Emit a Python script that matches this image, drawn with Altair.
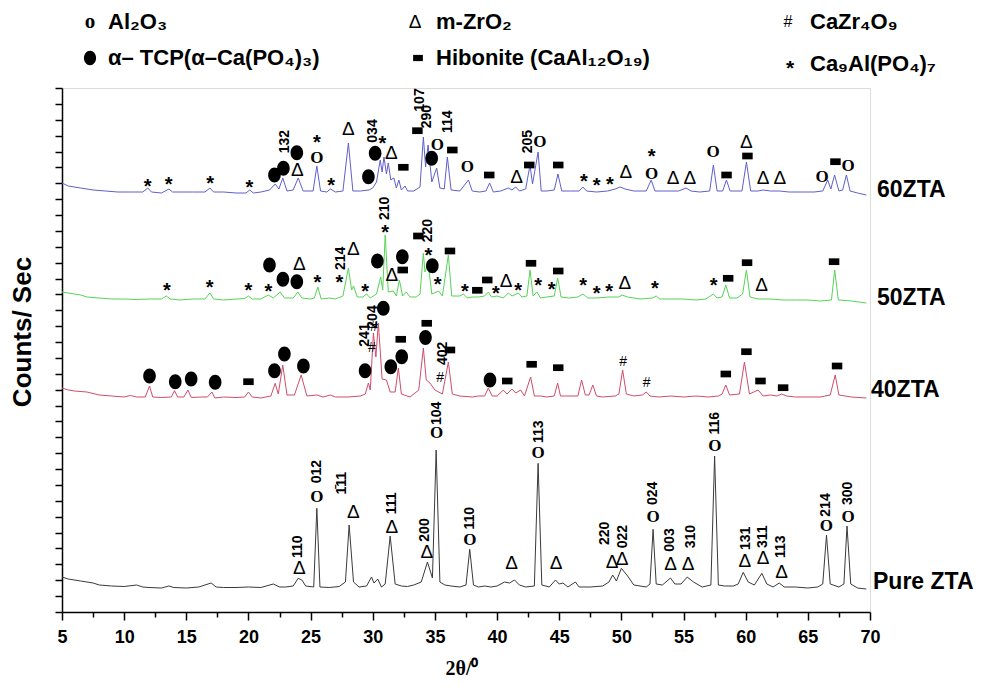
import altair as alt
import pandas as pd

# ---------------- data (2θ in degrees, intensity in arbitrary stacked units) -------------
pure_zta = [(5.0,35),(5.5,33),(6.5,31),(7.5,29),(8.0,27),(9.0,26),(10.0,25.5),(11.0,27),(11.5,25),(12.0,24.5),
    (13.0,24),(13.6,26),(14.0,24.5),(15.0,24),(16.0,25),(17.0,29),(17.4,25),(18.0,24.5),(19.0,24.5),(20.0,25),
    (21.0,24.5),(22.0,28),(22.5,25),(23.0,25),(23.6,26),(24.0,33.7),(24.3,32),(24.6,26),(25.25,25),(25.5,103.7),
    (25.75,25),(26.5,24.5),(27.3,25.5),(27.8,30),(28.1,87),(28.45,30),(28.9,25),(29.5,26),(29.9,35),(30.1,29),
    (30.4,33),(30.7,25),(31.0,28),(31.4,76),(31.8,28),(32.3,26),(32.8,25.5),(33.3,27),(33.9,30),(34.4,50),
    (34.8,34),(35.1,162),(35.4,30),(35.8,27),(36.3,26),(37.0,25),(37.5,27),(37.8,62.7),(38.1,27),(38.5,25),
    (39.0,26),(39.5,25),(40.0,26),(40.6,30),(41.0,29),(41.4,32),(41.8,27),(42.3,25),(43.0,26),(43.3,148.7),
    (43.6,27),(44.2,25),(44.7,32),(45.0,28),(45.3,29),(45.7,25),(46.3,30),(46.6,25),(47.5,25),(48.5,26),
    (49.0,30),(49.3,37),(49.6,31),(50.0,43.7),(50.5,36),(51.0,27),(52.0,25),(52.3,28),(52.55,82.7),(52.8,28),
    (53.3,27),(53.95,34),(54.3,28),(54.8,28),(55.3,35),(55.8,30),(56.5,25),(57.2,27),(57.5,156),(57.8,27),
    (58.3,26),(59.0,26),(59.4,28),(59.8,39.7),(60.2,30),(60.7,27),(61.3,38.7),(61.7,28),(62.2,25),(62.7,29),
    (63.1,25),(64.0,25),(65.0,24),(65.8,25),(66.2,28),(66.5,77),(66.8,28),(67.5,25),(67.9,28),(68.15,86),
    (68.45,28),(69.0,24),(69.7,23)]

zta40 = [(5.0,224),(5.5,222),(6.0,221),(7.0,220),(8.0,217),(9.0,216),(10.0,215),(10.5,216.5),(11.0,215),
    (11.7,215),(12.04,226),(12.3,215),(13.0,214.5),(13.8,215),(14.05,221.3),(14.3,215),(14.8,215),(15.13,222),
    (15.4,214.5),(16.2,215),(16.7,215),(17.06,220),(17.3,214),(18.0,215),(19.0,214.5),(19.7,215),(20.0,220),
    (20.3,215),(21.0,214),(21.8,216),(22.15,228.7),(22.4,218),(22.76,247),(23.1,217),(23.7,217),(24.24,237),
    (24.7,216),(25.5,217),(26.0,215),(26.6,217),(27.0,215),(28.0,215),(29.0,216),(29.4,218),(29.65,229),
    (29.8,222),(30.05,279),(30.25,255),(30.45,289),(30.75,233),(31.1,232),(31.4,220),(31.8,220),(32.06,244),
    (32.3,218),(33.0,215),(33.7,222),(34.07,264),(34.3,232),(34.6,229),(35.0,222),(35.6,218),(36.08,250),
    (36.4,218),(37.0,216),(38.0,215),(38.5,216),(39.0,216),(39.3,224),(39.6,216),(40.0,216),(40.5,222),
    (40.8,218),(41.2,223),(41.5,219),(41.9,222),(42.2,216),(42.7,235),(43.0,216),(43.5,216),(44.0,215),
    (44.6,216),(44.87,229),(45.1,216),(45.5,216),(46.5,216),(46.8,232),(47.1,217),(47.4,217),(47.7,227),
    (48.0,216),(48.5,215),(49.5,216),(49.8,218),(50.1,242),(50.4,218),(51.0,216),(51.7,217),(52.0,220),
    (52.3,216),(53.0,215),(54.0,216),(55.0,215),(56.0,216),(57.0,215),(57.8,216),(58.1,218),(58.4,227),
    (58.7,217),(59.5,218),(59.9,250),(60.3,218),(61.0,222),(61.4,216),(62.0,217),(62.5,216),(62.9,218),
    (63.3,216),(64.0,215),(65.0,215),(66.0,215),(66.8,217),(67.2,237),(67.5,217),(68.5,215),(69.7,214)]

zta50 = [(5.0,320),(5.5,319),(6.5,317),(7.0,315),(8.0,314),(9.0,313),(10.0,313),(11.0,312.5),(12.0,313),
    (13.0,313),(13.4,316),(13.7,313),(14.5,312),(15.5,313),(16.5,313),(16.9,319),(17.2,313),(18.0,312),
    (19.0,313),(19.7,313.5),(20.0,316),(20.3,313),(21.0,313),(21.6,317),(22.0,314),(22.55,320),(22.9,314),
    (23.6,314),(23.97,320),(24.3,314),(25.0,313),(25.3,314),(25.58,325),(25.85,313),(26.5,314),(27.0,313),
    (27.6,316),(28.04,344),(28.3,322),(28.45,326),(28.75,315),(29.2,315),(29.5,318),(29.8,314),(30.3,318),
    (30.64,335),(30.8,322),(31.0,377),(31.25,320),(31.65,321),(31.9,316),(32.14,332),(32.4,316),(32.7,320),
    (33.0,315),(33.5,315),(33.8,318),(34.07,359),(34.2,340),(34.45,349),(34.75,318),(35.3,321),(35.6,316),
    (36.08,357),(36.35,316),(37.0,316),(37.3,318),(37.6,314),(38.0,315),(38.5,315),(39.0,316),(39.3,320),
    (39.55,315),(40.0,316),(40.5,314),(40.9,319),(41.2,316),(41.7,319),(42.0,315),(42.4,316),(42.65,342),
    (42.9,316),(43.2,320),(43.5,314),(44.0,315),(44.6,316),(44.87,334),(45.15,315),(45.8,314),(46.5,315),
    (46.9,318),(47.3,314),(48.0,314),(49.0,315),(49.8,315),(50.05,317),(50.5,315),(51.5,313),(52.5,314),
    (52.8,316),(53.1,313),(54.0,313),(55.0,313),(56.0,312),(56.8,313),(57.4,318),(57.7,314),(58.1,315),
    (58.4,327),(58.7,314),(59.3,314),(59.75,318),(60.06,342),(60.35,315),(61.0,313),(62.0,313),(63.0,312),
    (64.0,312),(65.0,312),(66.0,311),(66.9,312),(67.16,342),(67.45,312),(68.5,311),(69.7,309)]

zta60 = [(5.0,429),(5.5,426),(6.5,424),(7.5,422),(8.5,421),(9.5,420),(10.5,420),(11.5,420),(11.9,424),
    (12.2,420),(13.0,419),(13.6,423),(13.9,420),(14.5,420),(15.5,420),(16.5,420),(16.9,424),(17.2,420),
    (18.0,420),(19.0,419),(19.8,419),(20.1,422),(20.4,419),(21.0,420),(21.7,422),(22.15,428),(22.45,423),
    (22.76,434),(23.1,421),(23.6,422),(24.0,434),(24.4,421),(25.2,421),(25.5,446),(25.8,421),(26.3,420),
    (26.6,423),(27.0,420),(27.6,421),(28.04,469),(28.4,421),(29.0,421),(29.7,422),(30.0,424),(30.3,430),
    (30.6,452),(30.75,440),(30.9,455),(31.1,438),(31.25,449),(31.45,432),(31.7,434),(31.9,424),(32.1,432),
    (32.3,422),(32.6,426),(32.8,421),(33.3,421),(33.8,425),(34.07,475),(34.25,445),(34.45,467),(34.75,430),
    (35.14,444),(35.4,424),(35.75,423),(36.0,455),(36.3,422),(37.0,421),(37.7,432),(38.0,421),(38.6,420),
    (39.1,421),(39.4,429),(39.7,420),(40.3,421),(40.9,424),(41.2,422),(41.5,425),(41.8,421),(42.3,423),
    (42.65,447),(42.85,428),(43.3,460),(43.55,421),(44.0,421),(44.6,422),(44.9,438),(45.2,421),(45.9,421),
    (46.6,421),(46.9,425),(47.2,421),(48.0,420),(48.9,421),(49.5,423),(49.9,425),(50.3,423),(51.0,421),
    (52.0,421),(52.4,432),(52.7,421),(53.3,421),(54.0,421),(54.6,421),(55.2,424),(55.6,421),(56.3,420),
    (57.1,421),(57.4,447),(57.7,421),(58.15,421),(58.45,432),(58.75,421),(59.7,421),(60.06,450),(60.4,421),
    (61.0,421),(61.4,422),(62.0,421),(62.7,421),(63.5,420),(64.5,420),(65.5,420),(66.2,421),(66.6,432),
    (66.85,423),(67.15,437),(67.5,421),(67.8,422),(68.1,437),(68.4,421),(69.0,419),(69.7,417)]

series_names = ["60ZTA", "50ZTA", "40ZTA", "Pure ZTA"]
series_colors = ["#5f5fcc", "#55d455", "#d04d6b", "#3a3a3a"]

# phase markers (2θ, height)
al2o3_marks = [(25.50,115.3),(35.14,178.7),(37.82,72),(43.31,158.7),(52.56,95.3),(57.52,166),(66.49,86),(68.23,94.7),
    (25.50,454),(35.19,467),(37.60,444.7),(43.45,470.3),(52.43,438),(57.38,460.3),(66.14,434.7),(68.23,446)]
zro2_marks = [(24.10,43.7),(28.44,100.3),(31.53,85.3),(34.34,60.3),(41.17,48.7),(44.74,48.7),(49.26,50.3),(50.06,52.7),
    (53.95,48),(55.37,48),(59.93,51),(61.40,53.7),(62.88,40.3),
    (24.10,348),(28.44,362.7),(31.53,337),(40.72,331.3),(50.28,329.3),(61.27,327),
    (23.94,442),(28.04,482.7),(31.50,459),(41.58,435.3),(50.36,440.3),(54.16,433.7),(55.51,433.7),(60.06,470.3),
    (61.40,433.7),(62.74,433.7)]
tcp_marks = [(12.04,236),(14.11,230.3),(15.39,233),(17.32,229.7),(22.09,241.3),(22.89,258),(24.42,246),(29.38,241.3),
    (30.85,303.7),(31.45,245.3),(32.33,255.3),(34.24,274.5),(39.43,232),
    (21.69,347),(22.77,332.7),(23.89,330.3),(30.37,351),(32.38,355.3),(34.79,346.3),
    (22.09,437),(22.81,443.7),(23.89,459.3),(29.65,435.3),(30.19,458.7),(34.74,453.7)]
hibonite_marks = [(20.0,230.3),(32.25,272.7),(34.34,288.7),(36.21,262),(40.82,231),(42.78,247.7),(44.92,244.3),
    (58.40,238),(60.06,260.3),(61.19,231),(63.01,224.3),(67.35,246),
    (32.41,342),(33.67,376),(36.21,361),(38.41,321.7),(39.21,332),(42.73,348.7),(44.92,341),(58.59,333.7),
    (60.11,349.3),(67.11,350.3),
    (32.46,444.7),(33.59,481.3),(36.40,462),(39.37,437),(42.59,447),(44.92,447),(58.46,437),(60.14,456),(67.22,450.3)]
ca9al_marks = [(13.44,326),(16.87,328.7),(20.0,326),(21.61,325.3),(25.55,333.7),(27.31,334.3),(29.38,324.7),
    (30.99,383.7),(34.47,361),(35.22,332),(37.42,325.3),(39.91,322.7),(41.70,326),(43.31,331.3),(44.39,327),
    (46.93,331.3),(48.01,322.7),(49.02,324.7),(52.69,327.7),(57.43,331.3),
    (11.88,430.3),(13.57,432),(16.92,433),(20.08,428.7),(25.50,474),(26.65,431.3),(30.78,473),(46.99,434.7),
    (48.01,431.3),(49.08,432),(52.43,460)]
cazr_marks = [(29.92,263.7),(30.10,285),(35.41,233.7),(50.14,250.3),(52.03,228.7)]

hkl_labels = [("110",24.02,65.3),("012",25.50,140.3),("1\u030411",27.51,128.7),("111",31.53,108.7),("200",34.20,82),
    ("104",35.14,198.7),("110",37.82,93.7),("113",43.39,180.3),("220",48.67,78.7),("022",50.14,75.3),
    ("024",52.56,118.7),("003",53.95,72),("310",55.64,75.3),("116",57.52,188.7),("131",60.01,73.7),
    ("311",61.40,75.3),("113",62.88,65.3),("214",66.44,107),("300",68.23,118.7),
    ("241",29.38,277),("204",30.0,295),("402",35.68,258.7),
    ("214",27.45,353.7),("210",30.99,403.7),("220",34.42,381.3),
    ("132",22.95,470.3),("034",30.05,481),("107",33.80,512),("290",34.34,495.3),("114",36.08,490.3),("205",42.46,470.3)]

legend_phases = ["Al\u2082O\u2083", "m-ZrO\u2082", "CaZr\u2084O\u2089",
                 "\u03b1\u2013 TCP(\u03b1\u2013Ca(PO\u2084)\u2083)", "Hibonite (CaAl\u2081\u2082O\u2081\u2089)", "Ca\u2089Al(PO\u2084)\u2087"]

x_ticks = [5 + 2.5 * i for i in range(27)]

# ---------------- layout ----------------
W, H = 808, 524
SANS = "'Liberation Sans Narrow', 'Liberation Sans', Arial, sans-serif"
SANSB = "'Liberation Sans', Arial, sans-serif"
SERIF = "'Liberation Serif', 'Times New Roman', serif"

rows = []
for name, pts in zip(series_names, [zta60, zta50, zta40, pure_zta]):
    for x, y in pts:
        rows.append({"x": x, "y": y, "s": name})
df_lines = pd.DataFrame(rows)

xs = alt.Scale(domain=[5, 70], nice=False, zero=False)
ys = alt.Scale(domain=[0, H], nice=False, zero=False)

lines = alt.Chart(df_lines).mark_line(strokeWidth=1, clip=True).encode(
    x=alt.X("x:Q", scale=xs, axis=alt.Axis(
        values=x_ticks, tickCount=200, format="d",
        labelExpr="datum.value % 5 == 0 ? format(datum.value, 'd') : ''", title=None,
        grid=False, domainColor="black", domainWidth=1.5, tickColor="black", tickWidth=1.5,
        tickSize={"condition": {"test": "datum.value % 5 == 0", "value": 8}, "value": 5},
        labelFont=SANS, labelFontSize=18, labelFontWeight="bold", labelColor="black",
        labelPadding=8, labelOverlap=False, labelFlush=False)),
    y=alt.Y("y:Q", scale=ys, axis=alt.Axis(
        values=[round(i * H / 33, 2) for i in range(34)], tickCount=200, labels=False, title=None, grid=False,
        domainColor="black", domainWidth=1.5, tickColor="black", tickWidth=1.5, tickSize=7,
        labelOverlap=False)),
    color=alt.Color("s:N", scale=alt.Scale(domain=series_names, range=series_colors), legend=None),
    detail="s:N",
)

def pts_df(lst):
    return pd.DataFrame(lst, columns=["x", "y"])

def glyph_layer(lst, glyph, font, size, weight="normal", dy=0):
    d = pts_df(lst)
    d["t"] = glyph
    return alt.Chart(d).mark_text(font=font, fontSize=size, fontWeight=weight, color="black",
                                  align="center", baseline="middle", dy=dy).encode(
        x=alt.X("x:Q", scale=xs), y=alt.Y("y:Q", scale=ys), text="t:N")

ELLIPSE = "M0,-1 A0.84,1 0 1,1 0,1 A0.84,1 0 1,1 0,-1 Z"
RECT = "M-1,-0.64 L1,-0.64 L1,0.64 L-1,0.64 Z"

o_layer = glyph_layer(al2o3_marks, "O", SERIF, 17, "bold")
d_layer = glyph_layer(zro2_marks, "\u0394", SANSB, 19)
s_layer = glyph_layer(ca9al_marks, "*", SANSB, 20, "bold", dy=5)
h_layer = glyph_layer(cazr_marks, "#", SANSB, 14, "normal")

tcp_layer = alt.Chart(pts_df(tcp_marks)).mark_point(shape=ELLIPSE, filled=True, color="black", opacity=1,
                                                     size=225, strokeWidth=0).encode(
    x=alt.X("x:Q", scale=xs), y=alt.Y("y:Q", scale=ys))
hib_layer = alt.Chart(pts_df(hibonite_marks)).mark_point(shape=RECT, filled=True, color="black", opacity=1,
                                                          size=110, strokeWidth=0).encode(
    x=alt.X("x:Q", scale=xs), y=alt.Y("y:Q", scale=ys))

hkl_df = pd.DataFrame(hkl_labels, columns=["t", "x", "y"])
hkl_layer = alt.Chart(hkl_df).mark_text(font=SANSB, fontSize=14, fontWeight="bold", angle=270,
                                        align="center", baseline="middle", color="black").encode(
    x=alt.X("x:Q", scale=xs), y=alt.Y("y:Q", scale=ys), text="t:N")

# series names at the right of each pattern
name_df = pd.DataFrame({"t": series_names, "px": [815, 815, 809, 811], "py": [102, 210, 302, 494]})
name_layer = alt.Chart(name_df).mark_text(font=SANSB, fontSize=23, fontWeight="bold", align="left",
                                          baseline="middle", color="black").encode(
    x=alt.X("px:Q", scale=None), y=alt.Y("py:Q", scale=None), text="t:N")

# legend (top)
def px_text(df, font, size, weight="normal", align="left", dy=0, angle=0):
    return alt.Chart(df).mark_text(font=font, fontSize=size, fontWeight=weight, baseline="middle",
                                   align=align, dy=dy, angle=angle, color="black").encode(
        x=alt.X("px:Q", scale=None), y=alt.Y("py:Q", scale=None), text="t:N")

leg_o = px_text(pd.DataFrame({"t": ["o"], "px": [28], "py": [-66]}), SERIF, 21, "bold", "center")
leg_d = px_text(pd.DataFrame({"t": ["\u0394"], "px": [353], "py": [-66]}), SANSB, 19, "normal", "center")
leg_h = px_text(pd.DataFrame({"t": ["#"], "px": [726], "py": [-66]}), SANSB, 16, "normal", "center")
leg_s = px_text(pd.DataFrame({"t": ["*"], "px": [728], "py": [-24]}), SANSB, 21, "bold", "center", dy=5)
leg_e = alt.Chart(pd.DataFrame({"px": [28], "py": [-30]})).mark_point(shape=ELLIPSE, filled=True, color="black",
                                                                       opacity=1, size=210, strokeWidth=0).encode(
    x=alt.X("px:Q", scale=None), y=alt.Y("py:Q", scale=None))
leg_r = alt.Chart(pd.DataFrame({"px": [356], "py": [-30]})).mark_point(shape=RECT, filled=True, color="black",
                                                                        opacity=1, size=95, strokeWidth=0).encode(
    x=alt.X("px:Q", scale=None), y=alt.Y("py:Q", scale=None))
leg_text = px_text(pd.DataFrame({"t": legend_phases, "px": [46, 374, 748, 46, 374, 748],
                                 "py": [-66, -66, -66, -30, -30, -24]}), SANS, 22, "bold")

# axis titles
ytitle = px_text(pd.DataFrame({"t": ["Counts/ Sec"], "px": [-39], "py": [244]}), SANS, 26, "bold", "center",
                 angle=270)
xtitle = px_text(pd.DataFrame({"t": ["2\u03b8/\u2070"], "px": [400], "py": [581]}), SERIF, 20, "bold", "center")

chart = alt.layer(
    lines, o_layer, d_layer, s_layer, h_layer, tcp_layer, hib_layer, hkl_layer, name_layer,
    leg_o, leg_d, leg_h, leg_s, leg_e, leg_r, leg_text, ytitle, xtitle
).properties(
    width=W, height=H,
    padding={"left": 54, "top": 80, "right": 108, "bottom": 71},
    autosize=alt.AutoSizeParams(type="none"),
).configure_view(stroke=None).configure(background="white")

chart.save("out.html", embed_options={"renderer": "svg", "actions": False})
